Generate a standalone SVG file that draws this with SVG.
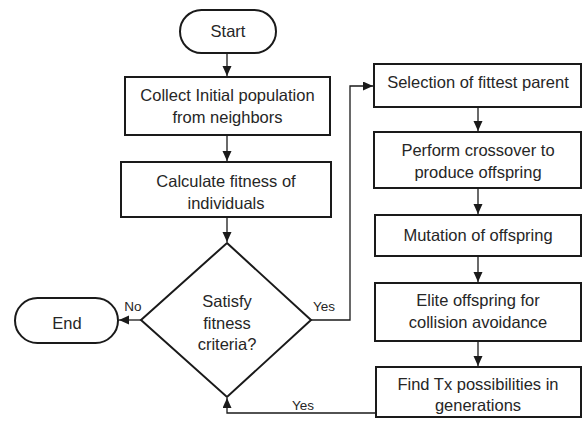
<svg xmlns="http://www.w3.org/2000/svg" width="583" height="428" viewBox="0 0 583 428">
<style>
.box{fill:#fff;stroke:#1a1a1a;stroke-width:2}
.t{font-family:"Liberation Sans",Arial,sans-serif;font-size:16.5px;fill:#262626;text-anchor:middle}
.lbl{font-family:"Liberation Sans",Arial,sans-serif;font-size:13.5px;fill:#262626;text-anchor:middle}
.c{fill:none;stroke:#1a1a1a;stroke-width:1.3;marker-end:url(#ah)}
</style>
<defs>
<marker id="ah" markerUnits="userSpaceOnUse" markerWidth="10" markerHeight="10" refX="10" refY="4.5" orient="auto">
<path d="M0,0 L10,4.5 L0,9 Z" fill="#1a1a1a"/>
</marker>
</defs>
<rect width="583" height="428" fill="#fff"/>
<g id="start"><rect class="box" x="180" y="10" width="96" height="43" rx="21.5"/><text class="t" x="228" y="37">Start</text></g>
<g id="collect"><rect class="box" x="125" y="77" width="205" height="58"/><text class="t" x="227.5" y="101">Collect Initial population</text><text class="t" x="227.5" y="123">from neighbors</text></g>
<g id="calculate"><rect class="box" x="121" y="162" width="210" height="55"/><text class="t" x="226" y="187">Calculate fitness of</text><text class="t" x="226" y="209">individuals</text></g>
<g id="decision"><polygon class="box" points="227,243 311,320 227,397 141,320"/><text class="t" x="227" y="307">Satisfy</text><text class="t" x="227" y="328.5">fitness</text><text class="t" x="227" y="350">criteria?</text></g>
<g id="end"><rect class="box" x="15" y="298" width="103" height="45" rx="22.5"/><text class="t" x="67" y="328.5">End</text></g>
<g id="selection"><rect class="box" x="374" y="64" width="207" height="43"/><text class="t" x="478" y="88">Selection of fittest parent</text></g>
<g id="crossover"><rect class="box" x="374" y="132" width="207" height="56"/><text class="t" x="478" y="156">Perform crossover to</text><text class="t" x="478" y="178">produce offspring</text></g>
<g id="mutation"><rect class="box" x="375" y="215" width="206" height="41"/><text class="t" x="478" y="241">Mutation of offspring</text></g>
<g id="elite"><rect class="box" x="375" y="283" width="206" height="58"/><text class="t" x="478" y="306">Elite offspring for</text><text class="t" x="478" y="328">collision avoidance</text></g>
<g id="findtx"><rect class="box" x="376" y="367" width="205" height="50"/><text class="t" x="478" y="390">Find Tx possibilities in</text><text class="t" x="478" y="411">generations</text></g>
<g id="connectors">
<path class="c" d="M227,53 V76"/>
<path class="c" d="M227,135 V161"/>
<path class="c" d="M227,217 V242"/>
<path class="c" d="M141,320 H119"/>
<path class="c" d="M311,320 H350 V86 H373"/>
<path class="c" d="M478,107 V131"/>
<path class="c" d="M478,188 V214"/>
<path class="c" d="M478,256 V282"/>
<path class="c" d="M478,341 V366"/>
<path class="c" d="M376,413 H227 V398"/>
<text class="lbl" x="133" y="311">No</text>
<text class="lbl" x="324" y="311">Yes</text>
<text class="lbl" x="303" y="410">Yes</text>
</g>
</svg>
